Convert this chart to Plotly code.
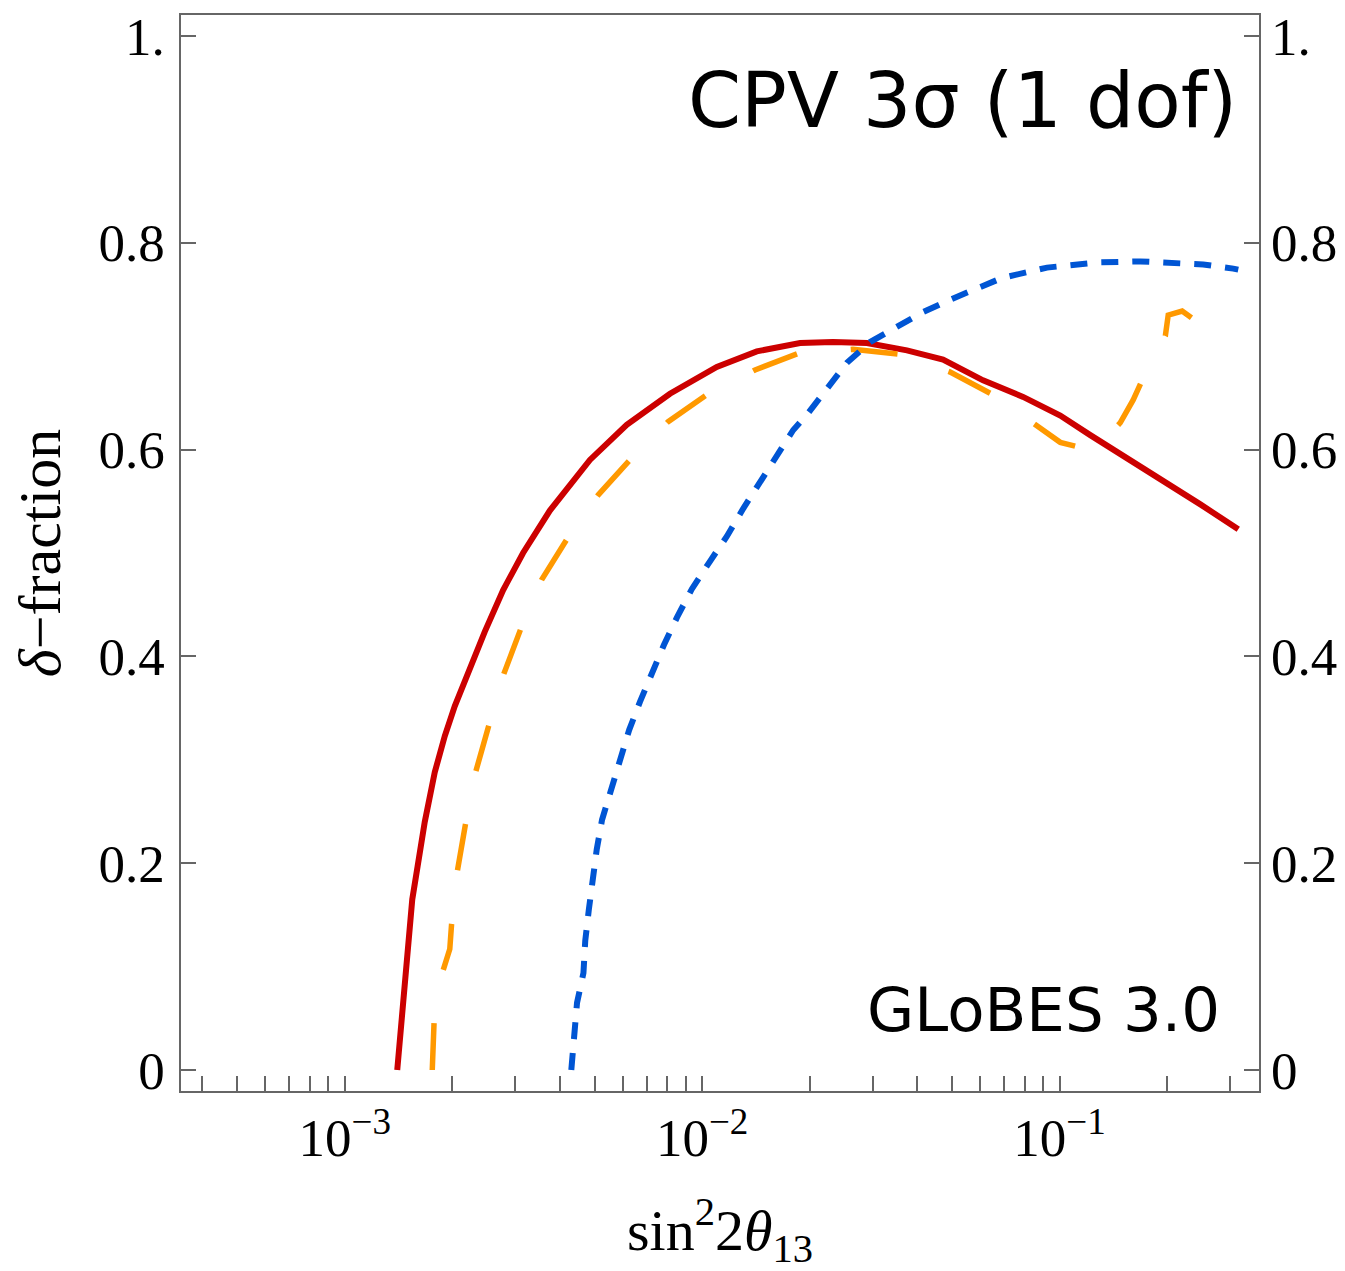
import numpy as np
import plotly.graph_objects as go

# log10(sin^2 2theta13) sample points and delta-fraction for each setup
red_log_s2t = [-2.853, -2.844, -2.834, -2.822, -2.811, -2.796, -2.776, -2.748, -2.720, -2.692,
               -2.645, -2.608, -2.557, -2.501, -2.426, -2.314, -2.211, -2.090, -1.959, -1.847,
               -1.726, -1.634, -1.539, -1.427, -1.326, -1.214, -1.102, -1.035, -0.998, -0.914,
               -0.802, -0.704, -0.606, -0.500]
red_frac = [0.000, 0.036, 0.084, 0.133, 0.165, 0.197, 0.240, 0.288, 0.323, 0.352,
            0.394, 0.424, 0.464, 0.500, 0.541, 0.590, 0.624, 0.654, 0.680, 0.695,
            0.703, 0.704, 0.703, 0.696, 0.687, 0.667, 0.651, 0.640, 0.633, 0.614,
            0.590, 0.569, 0.547, 0.523]

orange_log_s2t = [-2.755, -2.750, -2.725, -2.706, -2.701, -2.685, -2.662, -2.633, -2.597, -2.555,
                  -2.507, -2.449, -2.379, -2.291, -2.202, -2.095, -1.987, -1.852, -1.731, -1.578,
                  -1.441, -1.306, -1.186, -1.066, -0.998, -0.942, -0.900, -0.830, -0.794, -0.769,
                  -0.704, -0.696, -0.657, -0.629, -0.618]
orange_frac = [0.000, 0.046, 0.096, 0.117, 0.141, 0.192, 0.238, 0.289, 0.333, 0.383,
               0.427, 0.474, 0.513, 0.556, 0.590, 0.627, 0.653, 0.677, 0.693, 0.697,
               0.692, 0.675, 0.653, 0.624, 0.607, 0.602, 0.600, 0.626, 0.648, 0.667,
               0.710, 0.730, 0.734, 0.727, 0.727]

blue_log_s2t = [-2.366, -2.359, -2.350, -2.332, -2.327, -2.317, -2.308, -2.295, -2.280, -2.255,
                -2.232, -2.204, -2.174, -2.141, -2.107, -2.070, -2.029, -1.978, -1.931, -1.885,
                -1.838, -1.791, -1.745, -1.704, -1.651, -1.595, -1.530, -1.455, -1.382, -1.306,
                -1.161, -1.035, -0.895, -0.774, -0.682, -0.598, -0.514, -0.500]
blue_frac = [0.000, 0.035, 0.065, 0.094, 0.125, 0.155, 0.183, 0.213, 0.242, 0.271,
             0.300, 0.329, 0.356, 0.384, 0.411, 0.438, 0.465, 0.492, 0.516, 0.543,
             0.568, 0.593, 0.619, 0.635, 0.660, 0.684, 0.704, 0.719, 0.733, 0.745,
             0.766, 0.776, 0.781, 0.782, 0.781, 0.779, 0.775, 0.774]

y_tick_vals = [0, 0.2, 0.4, 0.6, 0.8, 1.0]
y_tick_text = ["0", "0.2", "0.4", "0.6", "0.8", "1."]
x_decades = [1e-3, 1e-2, 1e-1]
x_decade_text = ["10<sup>−3</sup>", "10<sup>−2</sup>", "10<sup>−1</sup>"]

# unlabeled log ticks between the decades
x_minor_vals = [m * dec for dec in [1e-4, 1e-3, 1e-2, 1e-1] for m in range(2, 10)
                if 3.5e-4 < m * dec < 3.7e-1]

AXIS_COL = "#666666"
SERIF = "Liberation Serif"
SANS = "DejaVu Sans"
TICK_STYLE = dict(ticks="inside", ticklen=15, tickwidth=1.5, tickcolor=AXIS_COL)

fig = go.Figure()
fig.add_trace(go.Scatter(x=10 ** np.array(red_log_s2t), y=red_frac, mode="lines",
                         line=dict(color="#cc0000", width=6), showlegend=False))
fig.add_trace(go.Scatter(x=10 ** np.array(orange_log_s2t), y=orange_frac, mode="lines",
                         line=dict(color="#ff9900", width=5.5, dash="47px,54px"), showlegend=False))
fig.add_trace(go.Scatter(x=10 ** np.array(blue_log_s2t), y=blue_frac, mode="lines",
                         line=dict(color="#0055d4", width=6, dash="17px,14px"), showlegend=False))
# transparent copy bound to the right-hand axis so it gets drawn
fig.add_trace(go.Scatter(x=10 ** np.array(red_log_s2t), y=red_frac, mode="lines", yaxis="y2",
                         opacity=0, hoverinfo="skip", showlegend=False,
                         line=dict(color="#cc0000", width=1)))

fig.update_layout(
    width=1345, height=1271,
    margin=dict(l=181, r=85.5, t=15, b=179.5, autoexpand=False),
    paper_bgcolor="white", plot_bgcolor="white",
    xaxis=dict(type="log", range=[-3.458, -0.442], showgrid=False, zeroline=False,
               showline=True, linecolor=AXIS_COL, linewidth=1.5, mirror=True,
               automargin=False, **TICK_STYLE,
               tickmode="array", tickvals=x_decades, ticktext=x_decade_text,
               minor=dict(ticks="inside", ticklen=15, tickwidth=1.5, tickcolor=AXIS_COL,
                          tickmode="array", tickvals=x_minor_vals, showgrid=False),
               tickfont=dict(family=SERIF, size=53, color="black"),
               title=dict(text="sin<sup>2</sup>2<i>θ</i><sub>13</sub>",
                          font=dict(family=SERIF, size=58, color="black"), standoff=45)),
    yaxis=dict(range=[-0.0203, 1.0203], showgrid=False, zeroline=False,
               showline=True, linecolor=AXIS_COL, linewidth=1.5, mirror=True,
               automargin=False, **TICK_STYLE,
               tickmode="array", tickvals=y_tick_vals, ticktext=y_tick_text,
               ticklabelstandoff=4,
               tickfont=dict(family=SERIF, size=53, color="black"),
               title=dict(text="<i>δ</i>−fraction",
                          font=dict(family=SERIF, size=60, color="black"), standoff=18)),
    yaxis2=dict(range=[-0.0203, 1.0203], overlaying="y", side="right", anchor="x",
                showgrid=False, zeroline=False, showline=False,
                automargin=False, **TICK_STYLE,
                tickmode="array", tickvals=y_tick_vals, ticktext=y_tick_text,
                ticklabelstandoff=11,
                tickfont=dict(family=SERIF, size=53, color="black")),
    annotations=[
        dict(text="CPV 3σ (1 dof)", xref="paper", yref="paper", x=0.981, y=0.921,
             xanchor="right", yanchor="middle", showarrow=False,
             font=dict(family=SANS, size=76, color="black")),
        dict(text="GLoBES 3.0", xref="paper", yref="paper", x=0.966, y=0.0757,
             xanchor="right", yanchor="middle", showarrow=False,
             font=dict(family=SANS, size=61, color="black")),
    ],
)

fig.write_html("out.html")
